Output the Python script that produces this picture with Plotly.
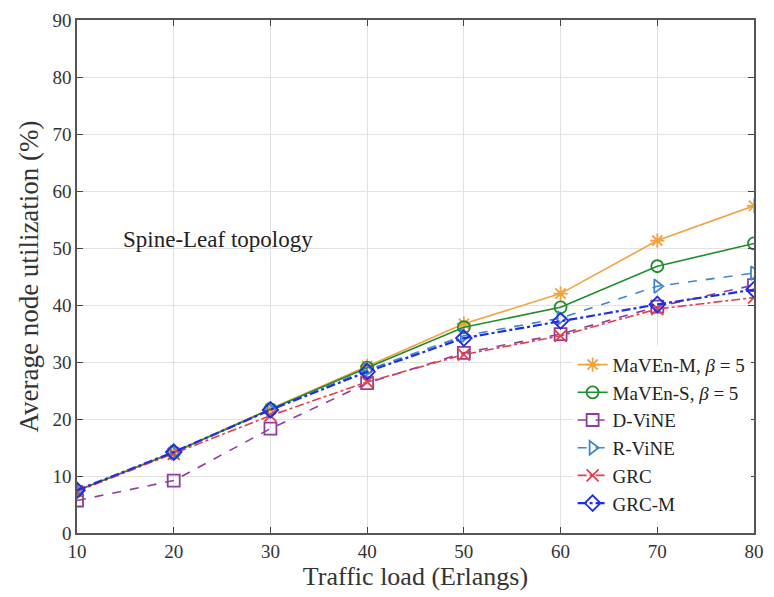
import plotly.graph_objects as go

loads = [10, 20, 30, 40, 50, 60, 70, 80]
maven_m = [7.5, 14.2, 21.8, 29.3, 36.7, 42.0, 51.3, 57.4]
maven_s = [7.4, 14.1, 21.7, 29.0, 36.1, 39.6, 46.8, 50.8]
d_vine = [5.7, 9.2, 18.3, 26.3, 31.6, 34.9, 39.7, 43.5]
r_vine = [7.4, 14.1, 21.6, 28.6, 34.6, 37.7, 43.3, 45.6]
grc = [7.3, 13.9, 20.6, 26.5, 31.3, 34.6, 39.3, 41.3]
grc_m = [7.5, 14.2, 21.6, 28.3, 34.2, 37.2, 40.1, 42.7]

x_ticks = [10, 20, 30, 40, 50, 60, 70, 80]
y_ticks = [0, 10, 20, 30, 40, 50, 60, 70, 80, 90]

FONT = "Liberation Serif"

series = [
    ("MaVEn-M, <i>β</i> = 5", maven_m, "#EFA33F", "solid", "asterisk-open", 1.6),
    ("MaVEn-S, <i>β</i> = 5", maven_s, "#1E8C2A", "solid", "circle-open", 1.6),
    ("D-ViNE", d_vine, "#8E3C9E", "dash", "square-open", 1.6),
    ("R-ViNE", r_vine, "#3F86CC", "dash", "triangle-right-open", 1.6),
    ("GRC", grc, "#E0404A", "dashdot", "x-thin-open", 1.6),
    ("GRC-M", grc_m, "#1F2FE0", "dashdot", "diamond-open", 2.2),
]

fig = go.Figure()
for name, ys, color, dash, sym, w in series:
    fig.add_trace(go.Scatter(
        x=loads, y=ys, name=name, mode="lines+markers",
        line=dict(color=color, dash=dash, width=w),
        marker=dict(symbol=sym, size=12, color=color,
                    line=dict(color=color, width=1.8)),
    ))

fig.add_annotation(x=14.6, y=51.5, xref="x", yref="y", text="Spine-Leaf topology",
                   showarrow=False, xanchor="left", yanchor="middle",
                   font=dict(family=FONT, size=23, color="#222222"))

fig.update_layout(
    width=774, height=597,
    margin=dict(l=77, r=10, t=16, b=64),
    paper_bgcolor="white", plot_bgcolor="white",
    font=dict(family=FONT, color="#333333"),
    showlegend=True,
    legend=dict(x=0.995, y=0.02, xanchor="right", yanchor="bottom",
                bgcolor="white", borderwidth=0,
                font=dict(family=FONT, size=19, color="#222222"),
                tracegroupgap=0, itemwidth=30),
    xaxis=dict(range=[10, 80], tickvals=x_ticks, ticks="inside", ticklen=6,
               showgrid=True, gridcolor="#E2E2E2", gridwidth=1,
               showline=True, linecolor="#555555", linewidth=1.5, mirror="ticks",
               tickfont=dict(family=FONT, size=19, color="#333333"),
               title=dict(text="Traffic load (Erlangs)", standoff=6,
                          font=dict(family=FONT, size=26, color="#333333")),
               zeroline=False),
    yaxis=dict(range=[0, 90], tickvals=y_ticks, ticks="inside", ticklen=6,
               showgrid=True, gridcolor="#E2E2E2", gridwidth=1,
               showline=True, linecolor="#555555", linewidth=1.5, mirror="ticks",
               tickfont=dict(family=FONT, size=19, color="#333333"),
               title=dict(text="Average node utilization (%)", standoff=6,
                          font=dict(family=FONT, size=27, color="#333333")),
               zeroline=False),
)

fig.write_html("out.html")
